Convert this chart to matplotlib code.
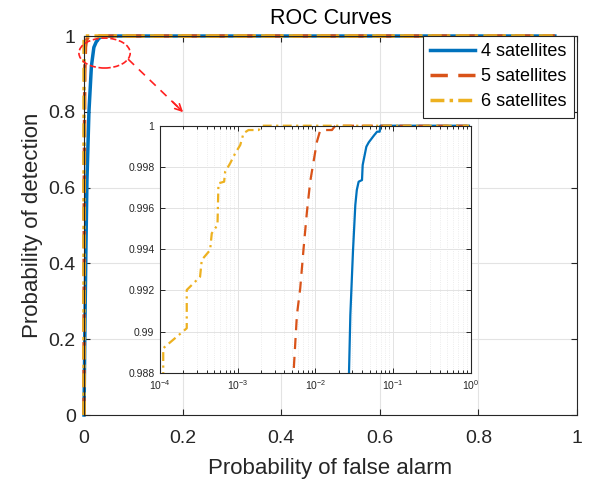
import matplotlib
matplotlib.use('Agg')
import numpy as np
from matplotlib import pyplot as plt
from matplotlib.patches import Ellipse, Rectangle
from matplotlib.ticker import FixedLocator, FixedFormatter, LogLocator, NullFormatter

## ROC points (false alarm, detection)
fpr4 = [0, 0.002, 0.004, 0.006, 0.010, 0.015, 0.020, 0.025, 0.0272, 0.0283,
        0.0306, 0.0328, 0.0343, 0.0362, 0.0400, 0.0408, 0.0455, 0.0488,
        0.0566, 0.0625, 0.0676, 0.069, 0.955]
tpr4 = [0, 0.25, 0.45, 0.62, 0.80, 0.92, 0.97, 0.985, 0.988, 0.9908,
        0.9939, 0.99615, 0.99688, 0.99728, 0.99736, 0.99809, 0.99898, 0.99919,
        0.99951, 0.99971, 0.99971, 1.0, 1.0]

fpr5 = [0, 0.0005, 0.0015, 0.003, 0.0045, 0.00525, 0.0058, 0.0064, 0.00707,
        0.00781, 0.0086, 0.0095, 0.0105, 0.0116, 0.0164, 0.0181, 0.955]
tpr5 = [0, 0.6, 0.9, 0.97, 0.985, 0.988, 0.9908, 0.9921, 0.99404,
        0.99582, 0.99728, 0.99825, 0.99922, 0.99979, 0.99979, 1.0, 1.0]

fpr6 = [0, 0.00003, 0.00008, 0.00011, 0.00011, 0.000221, 0.000221, 0.000328,
        0.000345, 0.000442, 0.000464, 0.00055, 0.000566, 0.00067, 0.00069,
        0.0008, 0.00093, 0.00108, 0.00119, 0.00138, 0.00186, 0.0021, 0.955]
tpr6 = [0, 0.7, 0.95, 0.987, 0.98919, 0.99016, 0.99202, 0.99266,
        0.99348, 0.99396, 0.99477, 0.99518, 0.9972, 0.99728, 0.99776,
        0.99817, 0.99866, 0.99906, 0.99963, 0.99979, 0.99979, 1.0, 1.0]

labels = ['4 satellites', '5 satellites', '6 satellites']
main_ticks = [0, 0.2, 0.4, 0.6, 0.8, 1]
main_ticklabels = ['0', '0.2', '0.4', '0.6', '0.8', '1']
inset_yticks = [0.988, 0.990, 0.992, 0.994, 0.996, 0.998, 1.0]
inset_yticklabels = ['0.988', '0.99', '0.992', '0.994', '0.996', '0.998', '1']

## MATLAB default colours
colors = ['#0072BD', '#D95319', '#EDB120']
dashes = [None, (5, 3), (4, 1.5, 1, 1.5)]
inset_dashes = [None, (5, 3.5), (4, 2, 1, 2)]
series = [(fpr4, tpr4), (fpr5, tpr5), (fpr6, tpr6)]

plt.rcParams['font.family'] = ['Liberation Sans', 'DejaVu Sans']
plt.rcParams['mathtext.fontset'] = 'custom'
plt.rcParams['mathtext.rm'] = 'Liberation Sans'
axcol = '#262626'
gridcol = '#e3e3e3'

fig = plt.figure(figsize=(5.92, 4.8), dpi=100)
ax = fig.add_axes([0.1419, 0.1354, 0.8328, 0.7896])

## main curves
for (x, y), c, d, lab in zip(series, colors, dashes, labels):
    line, = ax.plot(x, y, color=c, lw=2.5, label=lab, clip_on=False)
    if d is not None:
        line.set_dashes(d)

ax.set_xlim(0, 1)
ax.set_ylim(0, 1)
ax.xaxis.set_major_locator(FixedLocator(main_ticks))
ax.xaxis.set_major_formatter(FixedFormatter(main_ticklabels))
ax.yaxis.set_major_locator(FixedLocator(main_ticks))
ax.yaxis.set_major_formatter(FixedFormatter(main_ticklabels))
ax.tick_params(direction='in', top=True, right=True, labelsize=14,
               length=4, width=0.8, color=axcol, labelcolor=axcol, pad=6)
ax.tick_params(axis='x', pad=11)
for s in ax.spines.values():
    s.set_linewidth(0.8)
    s.set_color(axcol)
ax.grid(True, color=gridcol, lw=0.8)
ax.set_axisbelow(True)
ax.set_xlabel('Probability of false alarm', fontsize=16, color=axcol, labelpad=8)
ax.set_ylabel('Probability of detection', fontsize=16, color=axcol, labelpad=4)
ax.set_title('ROC Curves', fontsize=15.5, pad=9)

leg = ax.legend(loc='upper right', bbox_to_anchor=(0.993, 1.0), borderaxespad=0,
                fontsize=13, handlelength=2.5, handletextpad=0.3,
                labelspacing=0.45, borderpad=0.4, fancybox=False,
                framealpha=1, edgecolor=axcol)
leg.get_frame().set_linewidth(0.8)

## zoom marker: dashed ellipse and arrow
ell = Ellipse((0.0417, 0.955), 0.104, 0.079, fill=False, edgecolor='#ff2020',
              ls='--', lw=1.2, clip_on=False, zorder=5)
ax.add_patch(ell)
ax.plot([0.0894, 0.199], [0.939, 0.802], color='#ff2020', ls='--', lw=1.2,
        dashes=(5, 4), zorder=5)
ax.annotate('', xy=(0.201, 0.799), xytext=(0.18, 0.826),
            arrowprops=dict(arrowstyle='->', color='#ff2020', lw=1.2,
                            mutation_scale=12, shrinkA=0, shrinkB=0))

## inset on log scale
axi = fig.add_axes([0.2703, 0.2235, 0.5245, 0.5146])
clip = Rectangle((0, 0), 1, 1.02, transform=axi.transAxes)
for (x, y), c, d in zip(series, colors, inset_dashes):
    line, = axi.plot(x, y, color=c, lw=1.6)
    if d is not None:
        line.set_dashes(d)
    line.set_clip_path(clip)
axi.set_xscale('log')
axi.set_xlim(1e-4, 1)
axi.set_ylim(0.988, 1.0)
axi.yaxis.set_major_locator(FixedLocator(inset_yticks))
axi.yaxis.set_major_formatter(FixedFormatter(inset_yticklabels))
axi.xaxis.set_major_locator(LogLocator(base=10, numticks=10))
axi.xaxis.set_minor_locator(LogLocator(base=10, subs=np.arange(2, 10), numticks=10))
axi.xaxis.set_minor_formatter(NullFormatter())
axi.tick_params(which='both', direction='in', top=True, right=True,
                labelsize=7.5, color=axcol, labelcolor=axcol, width=0.7, pad=4)
axi.tick_params(which='major', length=3.5)
axi.tick_params(which='minor', length=2)
for s in axi.spines.values():
    s.set_linewidth(0.8)
    s.set_color(axcol)
axi.grid(True, which='major', color=gridcol, lw=0.7)
axi.grid(True, which='minor', axis='x', color='#e6e6e6', lw=0.6, ls=':')
axi.set_axisbelow(True)

fig.savefig('out.png', dpi=100)
